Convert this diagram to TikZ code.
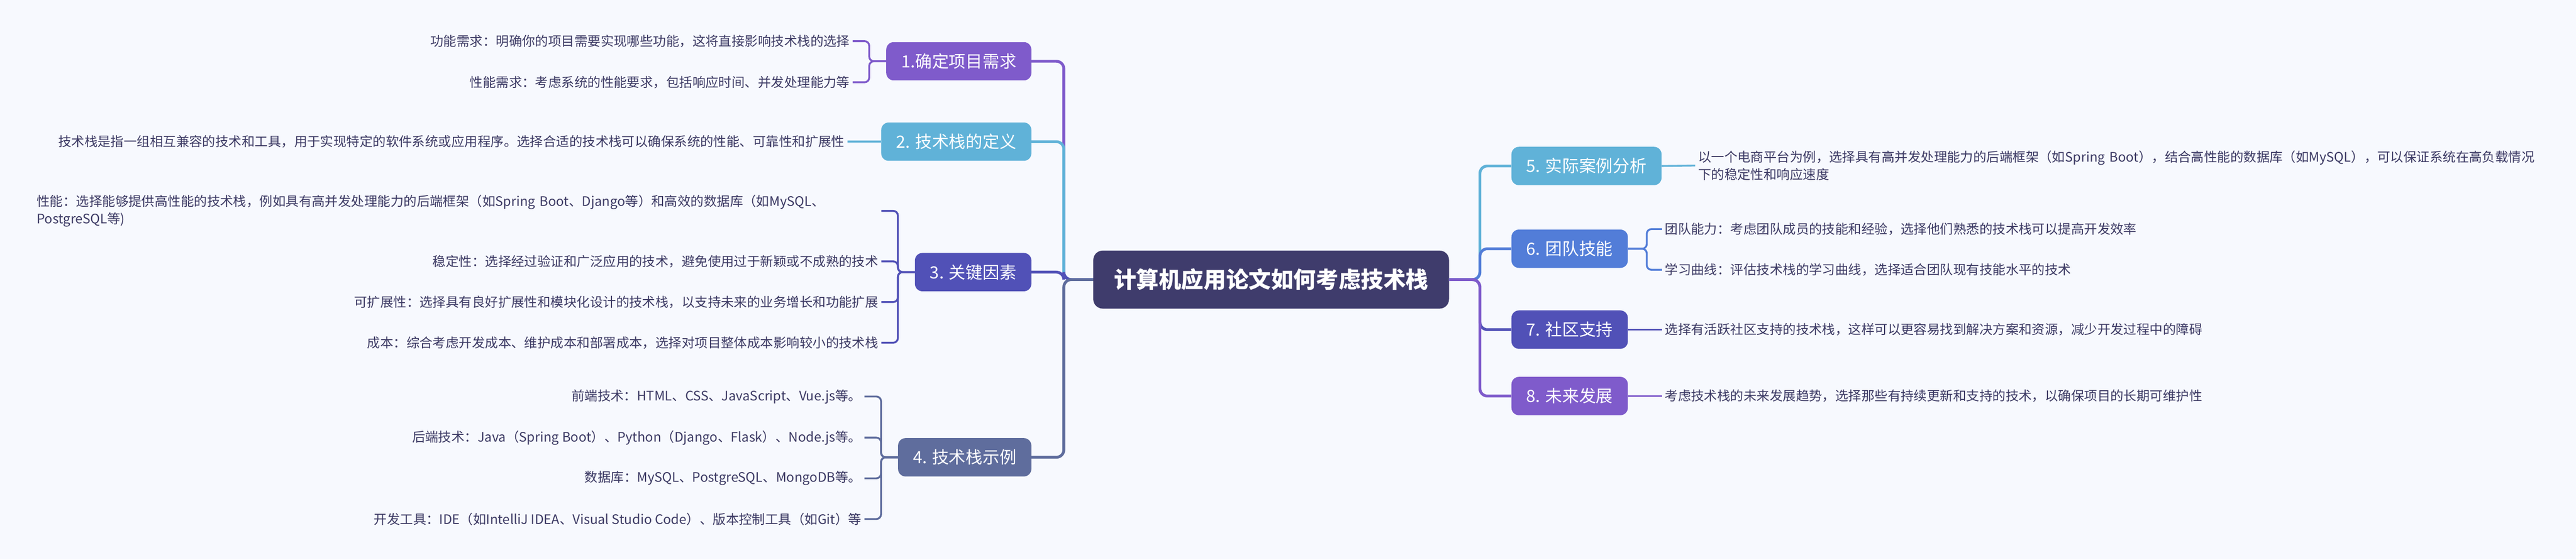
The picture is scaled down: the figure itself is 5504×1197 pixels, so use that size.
\documentclass[tikz,border=0pt]{standalone}
\usepackage{fontspec}
\setmainfont{Noto Sans CJK SC}
\usepackage{tikz}
\definecolor{bgcol}{HTML}{F7F9FE}
\definecolor{rootcol}{HTML}{3F3C6C}
\definecolor{purpcol}{HTML}{7F5BCB}
\definecolor{skycol}{HTML}{60B2D8}
\definecolor{indcol}{HTML}{5151B7}
\definecolor{slatecol}{HTML}{5F6D9D}
\definecolor{bluecol}{HTML}{527DD8}
\definecolor{inkcol}{HTML}{3C3A64}
\tikzset{
  rootbox/.style={fill=rootcol, text=white, rounded corners=10pt, minimum height=62pt, inner xsep=22pt, font=\fontsize{24}{28}\selectfont\bfseries},
  branchbox/.style={fill=#1, text=white, rounded corners=8pt, minimum height=41pt, inner xsep=16pt, font=\fontsize{18}{22}\selectfont},
  leaftext/.style={text=inkcol, inner sep=3pt, font=\fontsize{14}{19}\selectfont},
  trunkline/.style={draw=#1, line width=3pt, rounded corners=8pt},
  twigline/.style={draw=#1, line width=2pt, rounded corners=5pt},
}
\newcommand{\twigl}[3]{\draw[twigline=#1] (#2.west) -- ++(-36,0) |- (#3.east);}
\newcommand{\twigr}[3]{\draw[twigline=#1] (#2.east) -- ++(40,0) |- (#3.west);}

\begin{document}
\begin{tikzpicture}[x=0.5pt,y=-0.5pt]
\fill[bgcol] (0,0) rectangle (5504,1197);
\useasboundingbox (0,0) rectangle (5504,1197);
% root and hubs
\node[rootbox] (root) at (2716,598) {计算机应用论文如何考虑技术栈};
\coordinate (lhub) at (2273,598);
\coordinate (rhub) at (3162,598);
% left branches
\node[branchbox=purpcol, anchor=east] (n1) at (2204,131) {1.确定项目需求};
\node[branchbox=skycol, anchor=east] (n2) at (2204,303) {2. 技术栈的定义};
\node[branchbox=indcol, anchor=east] (n3) at (2204,582) {3. 关键因素};
\node[branchbox=slatecol, anchor=east] (n4) at (2204,978) {4. 技术栈示例};
% right branches
\node[branchbox=skycol, anchor=west] (n5) at (3229,355) {5. 实际案例分析};
\node[branchbox=bluecol, anchor=west] (n6) at (3229,532) {6. 团队技能};
\node[branchbox=indcol, anchor=west] (n7) at (3229,705) {7. 社区支持};
\node[branchbox=purpcol, anchor=west] (n8) at (3229,847) {8. 未来发展};
% trunk lines
\draw[trunkline=purpcol] (root.west) -- (lhub) |- (n1.east);
\draw[trunkline=skycol] (root.west) -- (lhub) |- (n2.east);
\draw[trunkline=indcol] (root.west) -- (lhub) |- (n3.east);
\draw[trunkline=slatecol] (root.west) -- (lhub) |- (n4.east);
\draw[trunkline=skycol] (root.east) -- (rhub) |- (n5.west);
\draw[trunkline=bluecol] (root.east) -- (rhub) |- (n6.west);
\draw[trunkline=indcol] (root.east) -- (rhub) |- (n7.west);
\draw[trunkline=purpcol] (root.east) -- (rhub) |- (n8.west);
% leaves of 1
\node[leaftext, anchor=east] (l11) at (1822,88) {功能需求：明确你的项目需要实现哪些功能，这将直接影响技术栈的选择};
\node[leaftext, anchor=east] (l12) at (1822,176) {性能需求：考虑系统的性能要求，包括响应时间、并发处理能力等};
\twigl{purpcol}{n1}{l11}
\twigl{purpcol}{n1}{l12}
% leaf of 2
\node[leaftext, anchor=east] (l21) at (1811,303) {技术栈是指一组相互兼容的技术和工具，用于实现特定的软件系统或应用程序。选择合适的技术栈可以确保系统的性能、可靠性和扩展性};
\draw[twigline=skycol] (n2.west) -- (l21.east);
% leaves of 3
\node[leaftext, anchor=east, text width=899pt, align=left] (l31) at (1883,451) {性能：选择能够提供高性能的技术栈，例如具有高并发处理能力的后端框架（如Spring Boot、Django等）和高效的数据库（如MySQL、\\PostgreSQL等)};
\node[leaftext, anchor=east] (l32) at (1883,559) {稳定性：选择经过验证和广泛应用的技术，避免使用过于新颖或不成熟的技术};
\node[leaftext, anchor=east] (l33) at (1883,646) {可扩展性：选择具有良好扩展性和模块化设计的技术栈，以支持未来的业务增长和功能扩展};
\node[leaftext, anchor=east] (l34) at (1883,733) {成本：综合考虑开发成本、维护成本和部署成本，选择对项目整体成本影响较小的技术栈};
\twigl{indcol}{n3}{l31}
\twigl{indcol}{n3}{l32}
\twigl{indcol}{n3}{l33}
\twigl{indcol}{n3}{l34}
% leaves of 4
\node[leaftext, anchor=east] (l41) at (1847,848) {前端技术：HTML、CSS、JavaScript、Vue.js等。};
\node[leaftext, anchor=east] (l42) at (1847,936) {后端技术：Java（Spring Boot）、Python（Django、Flask）、Node.js等。};
\node[leaftext, anchor=east] (l43) at (1847,1023) {数据库：MySQL、PostgreSQL、MongoDB等。};
\node[leaftext, anchor=east] (l44) at (1847,1110) {开发工具：IDE（如IntelliJ IDEA、Visual Studio Code）、版本控制工具（如Git）等};
\twigl{slatecol}{n4}{l41}
\twigl{slatecol}{n4}{l42}
\twigl{slatecol}{n4}{l43}
\twigl{slatecol}{n4}{l44}
% leaf of 5
\node[leaftext, anchor=west, text width=900pt, align=left] (l51) at (3622,354) {以一个电商平台为例，选择具有高并发处理能力的后端框架（如Spring Boot），结合高性能的数据库（如MySQL），可以保证系统在高负载情况\\下的稳定性和响应速度};
\draw[twigline=skycol] (n5.east) -- (l51.west);
% leaves of 6
\node[leaftext, anchor=west] (l61) at (3551,490) {团队能力：考虑团队成员的技能和经验，选择他们熟悉的技术栈可以提高开发效率};
\node[leaftext, anchor=west] (l62) at (3551,577) {学习曲线：评估技术栈的学习曲线，选择适合团队现有技能水平的技术};
\twigr{bluecol}{n6}{l61}
\twigr{bluecol}{n6}{l62}
% leaves of 7 and 8
\node[leaftext, anchor=west] (l71) at (3551,705) {选择有活跃社区支持的技术栈，这样可以更容易找到解决方案和资源，减少开发过程中的障碍};
\node[leaftext, anchor=west] (l81) at (3551,847) {考虑技术栈的未来发展趋势，选择那些有持续更新和支持的技术，以确保项目的长期可维护性};
\draw[twigline=indcol] (n7.east) -- (l71.west);
\draw[twigline=purpcol] (n8.east) -- (l81.west);
\end{tikzpicture}
\end{document}
